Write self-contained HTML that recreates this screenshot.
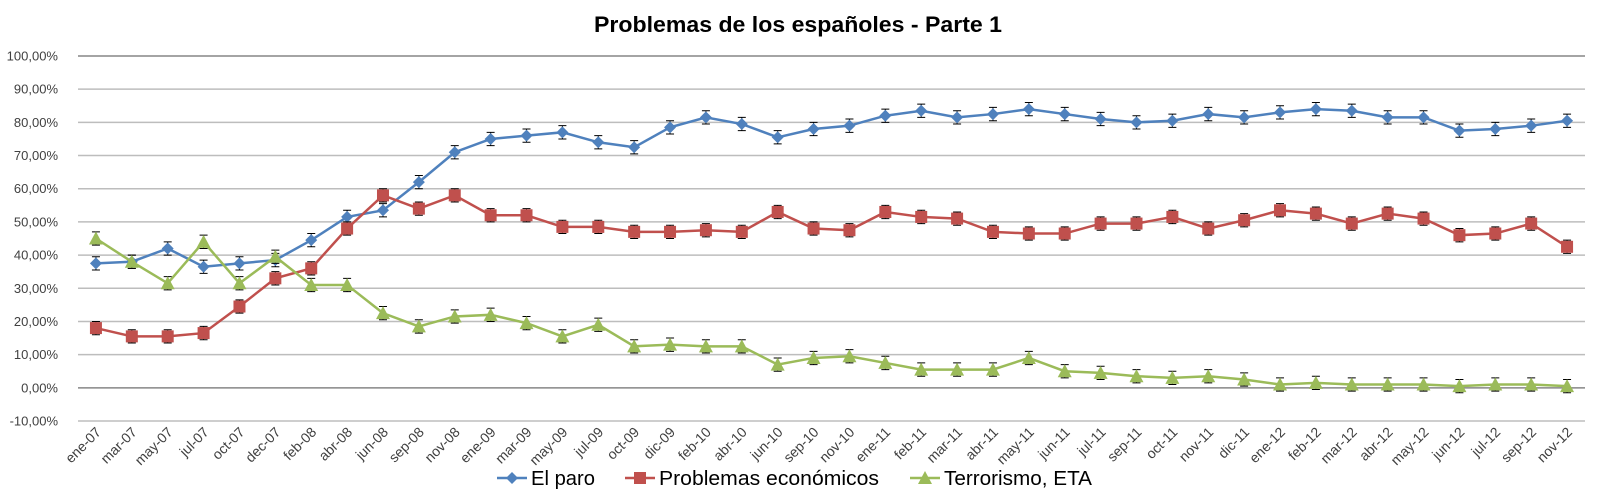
<!DOCTYPE html>
<html><head><meta charset="utf-8"><style>
body{margin:0;background:#fff;}
svg{display:block;font-family:"Liberation Sans",sans-serif;}
</style></head><body>
<svg id="chart" width="1600" height="502" viewBox="0 0 1600 502" xmlns="http://www.w3.org/2000/svg">
<text x="798" y="32" text-anchor="middle" font-size="22" font-weight="bold" fill="#000" textLength="408" lengthAdjust="spacingAndGlyphs">Problemas de los españoles - Parte 1</text>
<g id="grid"></g><g id="yax"></g><g id="xax"></g><g id="series"></g>
<g font-size="20" fill="#000">
 <g>
  <line x1="497" y1="478" x2="527" y2="478" stroke="#4F81BD" stroke-width="2.5"/>
  <path d="M512 472 L518 478 L512 484 L506 478Z" fill="#4F81BD"/>
  <text x="531" y="485" textLength="64" lengthAdjust="spacingAndGlyphs">El paro</text>
 </g>
 <g>
  <line x1="625" y1="478" x2="655" y2="478" stroke="#C0504D" stroke-width="2.5"/>
  <rect x="634" y="472" width="12" height="12" fill="#C0504D"/>
  <text x="659" y="485" textLength="220" lengthAdjust="spacingAndGlyphs">Problemas económicos</text>
 </g>
 <g>
  <line x1="910" y1="478" x2="940" y2="478" stroke="#9BBB59" stroke-width="2.5"/>
  <path d="M925 471 L932 484 L918 484Z" fill="#9BBB59"/>
  <text x="944" y="485" textLength="148" lengthAdjust="spacingAndGlyphs">Terrorismo, ETA</text>
 </g>
</g>
</svg>
<script>
const categories=["ene-07","mar-07","may-07","jul-07","oct-07","dec-07","feb-08","abr-08","jun-08","sep-08","nov-08","ene-09","mar-09","may-09","jul-09","oct-09","dic-09","feb-10","abr-10","jun-10","sep-10","nov-10","ene-11","feb-11","mar-11","abr-11","may-11","jun-11","jul-11","sep-11","oct-11","nov-11","dic-11","ene-12","feb-12","mar-12","abr-12","may-12","jun-12","jul-12","sep-12","nov-12"];
const paro=[37.5,38,42,36.5,37.5,38.5,44.5,51.5,53.5,62,71,75,76,77,74,72.5,78.5,81.5,79.5,75.5,78,79,82,83.5,81.5,82.5,84,82.5,81,80,80.5,82.5,81.5,83,84,83.5,81.5,81.5,77.5,78,79,80.5];
const economicos=[18,15.5,15.5,16.5,24.5,33,36,48,58,54,58,52,52,48.5,48.5,47,47,47.5,47,53,48,47.5,53,51.5,51,47,46.5,46.5,49.5,49.5,51.5,48,50.5,53.5,52.5,49.5,52.5,51,46,46.5,49.5,42.5];
const terrorismo=[45,38,31.5,44,31.5,39.5,31,31,22.5,18.5,21.5,22,19.5,15.5,19,12.5,13,12.5,12.5,7,9,9.5,7.5,5.5,5.5,5.5,9,5,4.5,3.5,3,3.5,2.5,1,1.5,1,1,1,0.5,1,1,0.5];
const errorMargin=[2];
const yTicks=[-10,0,10,20,30,40,50,60,70,80,90,100];
const yTickLabels=["-10,00%","0,00%","10,00%","20,00%","30,00%","40,00%","50,00%","60,00%","70,00%","80,00%","90,00%","100,00%"];

const NS="http://www.w3.org/2000/svg";
const L=78,R=1585,T=56,B=421;
const step=(R-L)/categories.length;
const x=i=>L+step*(i+0.5);
const y=v=>B-(v+10)/110*(B-T);
function mk(tag,attrs,parent){const e=document.createElementNS(NS,tag);for(const k in attrs)e.setAttribute(k,attrs[k]);parent.appendChild(e);return e;}
const grid=document.getElementById('grid'),yax=document.getElementById('yax'),xax=document.getElementById('xax'),ser=document.getElementById('series');
yTicks.forEach((t,i)=>{
  const g=mk('line',{x1:L,x2:R,y1:y(t),y2:y(t),stroke:(t===0||t===100)?'#868686':'#bdbdbd','stroke-width':1.5},grid);
  
  
  const tx=mk('text',{x:58,y:y(t)+4.5,'text-anchor':'end','font-size':13,fill:'#404040'},yax);
  
  
  tx.textContent=yTickLabels[i];
});
categories.forEach((c,i)=>{
  const ax=x(i)+6, ay=y(-10)+12;
  const tx=mk('text',{x:ax,y:ay,'text-anchor':'end','font-size':14,fill:'#404040',transform:`rotate(-45 ${ax} ${ay})`},xax);
  
  
  tx.textContent=c;
});
function drawSeries(vals,color,shape,name){
  const g=mk('g',{},ser);
  
  
  const pl=mk('polyline',{points:vals.map((v,i)=>x(i)+','+y(v)).join(' '),fill:'none',stroke:color,'stroke-width':2.5},g);
  
  
  vals.forEach((v,i)=>{
    const cx=x(i),cy=y(v),e=errorMargin[0];
    const eb=mk('path',{d:`M${cx} ${y(v+e)}V${y(v-e)}M${cx-4} ${y(v+e)}H${cx+4}M${cx-4} ${y(v-e)}H${cx+4}`,stroke:'#000','stroke-width':1,fill:'none'},g);
    
    
    let m;
    if(shape==='d')m=mk('path',{d:`M${cx} ${cy-6}L${cx+6} ${cy}L${cx} ${cy+6}L${cx-6} ${cy}Z`,fill:color},g);
    else if(shape==='s')m=mk('rect',{x:cx-6,y:cy-6,width:12,height:12,fill:color},g);
    else m=mk('path',{d:`M${cx} ${cy-7}L${cx+7} ${cy+6}L${cx-7} ${cy+6}Z`,fill:color},g);
    
    
  });
}
drawSeries(paro,'#4F81BD','d','series-el-paro');
drawSeries(economicos,'#C0504D','s','series-problemas-economicos');
drawSeries(terrorismo,'#9BBB59','t','series-terrorismo-eta');
</script>
</body></html>
